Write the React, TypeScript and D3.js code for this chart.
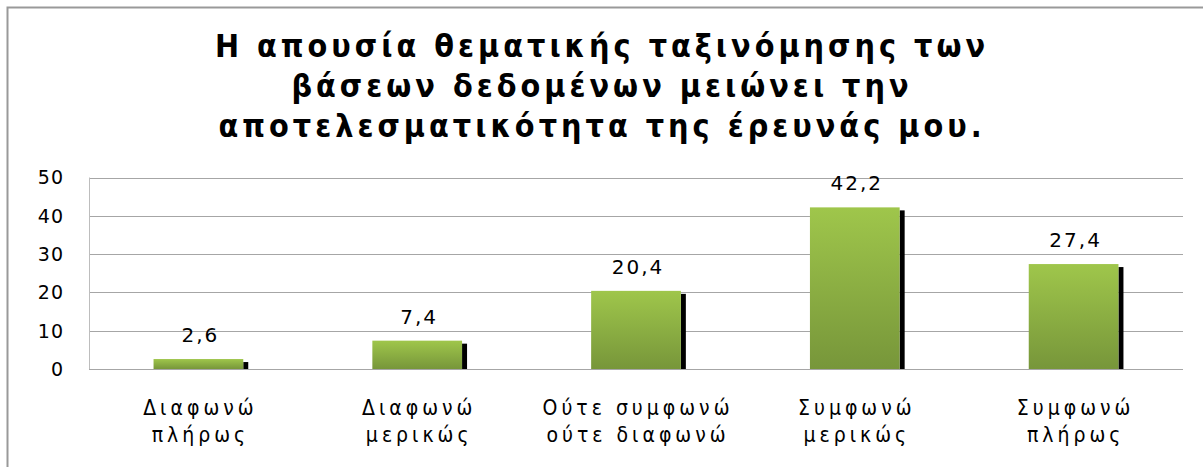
import React from "react";
import * as d3 from "d3";

const titleLines = [
  "Η απουσία θεματικής ταξινόμησης των",
  "βάσεων δεδομένων μειώνει την",
  "αποτελεσματικότητα της έρευνάς μου.",
];
const categories = [
  ["Διαφωνώ", "πλήρως"],
  ["Διαφωνώ", "μερικώς"],
  ["Ούτε συμφωνώ", "ούτε διαφωνώ"],
  ["Συμφωνώ", "μερικώς"],
  ["Συμφωνώ", "πλήρως"],
];
const values = [2.6, 7.4, 20.4, 42.2, 27.4];
const yTicks = [0, 10, 20, 30, 40, 50];

export default function App() {
  const W = 1203;
  const H = 467;
  const left = 89;
  const right = 1183;
  const top = 177.5;
  const bottom = 369;
  const keys = categories.map((c) => c.join(" "));
  const x = d3
    .scaleBand<string>()
    .domain(keys)
    .range([left, right])
    .paddingInner(0.59)
    .paddingOuter(0.295);
  const y = d3.scaleLinear().domain([0, 50]).range([bottom, top]);
  const bw = x.bandwidth();
  const fmt = (v: number) => String(v).replace(".", ",");
  const narrow = "'Liberation Sans Narrow', 'DejaVu Sans Condensed', 'Liberation Sans', sans-serif";
  return (
    <div style={{ position: "absolute", left: 0, top: 0 }}>
      <svg width={W} height={H} style={{ display: "block", background: "#fff" }}>
        <defs>
          <linearGradient id="barGrad" x1="0" y1="0" x2="0" y2="1">
            <stop offset="0%" stopColor="#9fc64b" />
            <stop offset="100%" stopColor="#77963a" />
          </linearGradient>
        </defs>
        <rect x={7.5} y={7.5} width={1400} height={800} fill="#fff" stroke="#999" strokeWidth={2} />
        {titleLines.map((t, i) => (
          <text
            key={i}
            x={602}
            y={57 + i * 40}
            textAnchor="middle"
            fontFamily={narrow}
            fontWeight="bold"
            fontSize={32}
            letterSpacing={4}
            fill="#000"
          >
            {t}
          </text>
        ))}
        {yTicks.map((t) => (
          <g key={t}>
            <line
              x1={left}
              x2={right}
              y1={Math.round(y(t)) + 0.5}
              y2={Math.round(y(t)) + 0.5}
              stroke="#a6a6a6"
              strokeWidth={1}
            />
            <text
              x={64}
              y={y(t)}
              dy="0.36em"
              textAnchor="end"
              fontFamily="'DejaVu Sans', Verdana, sans-serif"
              fontSize={19}
              letterSpacing={1}
              fill="#000"
            >
              {t}
            </text>
          </g>
        ))}
        <line x1={left + 0.5} x2={left + 0.5} y1={top} y2={bottom} stroke="#bdbdbd" strokeWidth={1} />
        {values.map((v, i) => {
          const bx = x(keys[i])!;
          const by = y(v);
          return (
            <g key={i}>
              <rect x={bx + bw} y={by + 3} width={5} height={bottom - by - 3} fill="#000" />
              <rect x={bx} y={by} width={bw} height={bottom - by} fill="url(#barGrad)" />
              <text
                x={bx + bw / 2 + 2}
                y={by - 17}
                textAnchor="middle"
                fontFamily="'DejaVu Sans', Verdana, sans-serif"
                fontSize={20}
                letterSpacing={2}
                fill="#000"
              >
                {fmt(v)}
              </text>
            </g>
          );
        })}
        {categories.map((c, i) => (
          <text
            key={i}
            x={x(keys[i])! + bw / 2 + 2}
            textAnchor="middle"
            fontFamily={narrow}
            fontSize={21}
            letterSpacing={4}
            fill="#000"
          >
            {c.map((l, j) => (
              <tspan key={j} x={x(keys[i])! + bw / 2 + 2} y={415 + j * 27}>
                {l}
              </tspan>
            ))}
          </text>
        ))}
      </svg>
    </div>
  );
}
